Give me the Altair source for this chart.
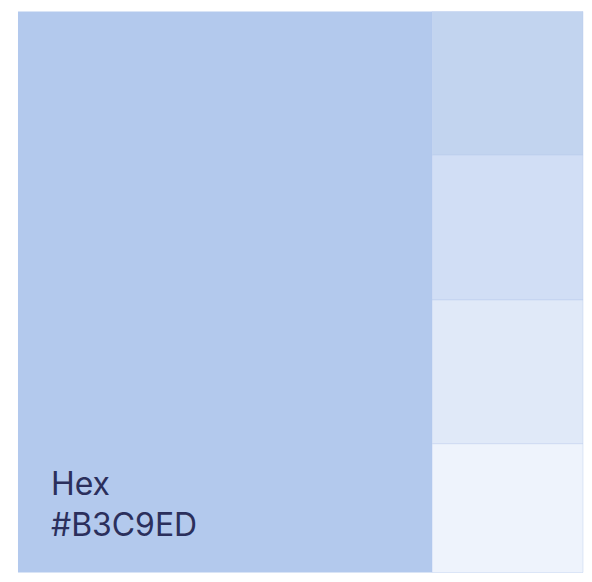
import altair as alt
import pandas as pd

# Palette swatches: main colour plus four tints
names = ["main", "tint1", "tint2", "tint3", "tint4"]
colors = ["#B3C9ED", "#C2D4EF", "#D1DEF5", "#E0E9F8", "#EEF3FC"]
main_share = 0.733   # share of width taken by the main swatch
tint_weights = [144, 145, 144, 129]   # visible heights of the tint cells
label_lines = ["Hex", "#B3C9ED"]

# Layout derived from the values above
rows = [dict(name=names[0], color=colors[0], x0=0.0, x1=main_share, y0=0.0, y1=1.0, main=True)]
total = sum(tint_weights)
acc = 0.0
for n, c, w in zip(names[1:], colors[1:], tint_weights):
    rows.append(dict(name=n, color=c, x0=main_share, x1=1.0, y0=acc / total, y1=(acc + w) / total, main=False))
    acc += w
df = pd.DataFrame(rows)

W = 566
H = 562
xs = alt.Scale(domain=[0, 1], nice=False, zero=False)
ys = alt.Scale(domain=[0, 1], nice=False, zero=False, reverse=True)

base = alt.Chart(df).encode(
    x=alt.X("x0:Q", scale=xs, axis=None),
    x2="x1",
    y=alt.Y("y0:Q", scale=ys, axis=None),
    y2="y1",
    color=alt.Color("color:N", scale=None, legend=None),
)
main_rect = base.mark_rect().transform_filter("datum.main")
tint_rects = base.mark_rect(stroke="#B3C9ED", strokeWidth=0.8, strokeOpacity=0.5).transform_filter("!datum.main")

txt_df = pd.DataFrame({"line": label_lines, "idx": list(range(len(label_lines)))})
text = alt.Chart(txt_df).mark_text(
    align="left", baseline="alphabetic", font="Inter", fontSize=32, color="#2B2F5C"
).encode(
    x=alt.value(33),
    y=alt.Y("idx:O", scale=alt.Scale(type="point", range=[484, 525], padding=0), axis=None),
    text="line:N",
)

chart = alt.layer(main_rect, tint_rects, text).resolve_scale(y="independent").properties(
    width=W, height=H,
    padding={"left": 10, "top": 2, "right": 0, "bottom": 0},
).configure_view(stroke=None)

chart.save("out.html", embed_options={"renderer": "svg", "actions": False})
